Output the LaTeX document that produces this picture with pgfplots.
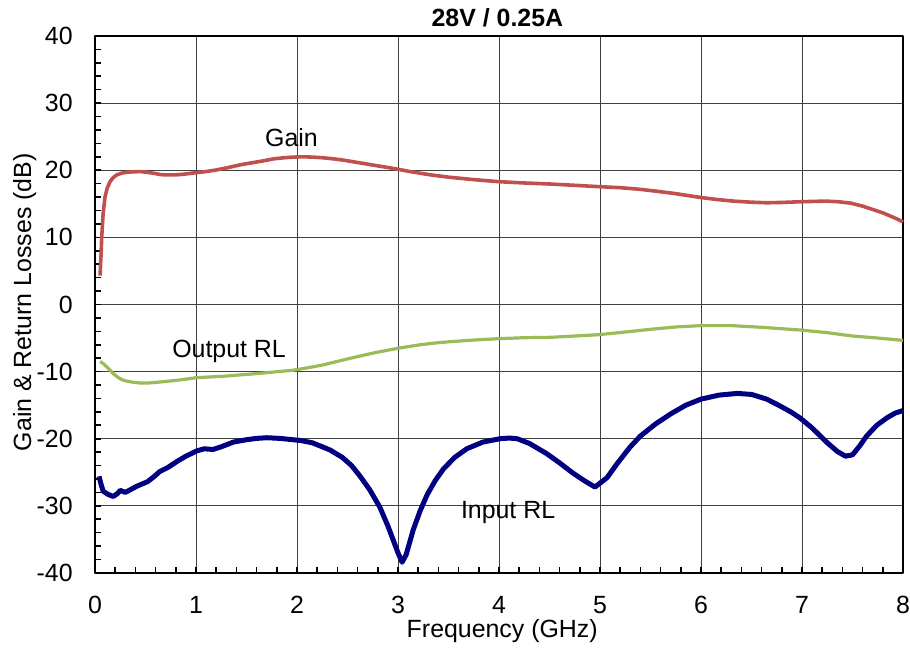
\documentclass[border=0pt]{standalone}
\usepackage{pgfplots}
\pgfplotsset{compat=1.18}
\usepackage{fontspec}
\setmainfont{Liberation Sans}
\definecolor{gainred}{HTML}{C0504D}
\definecolor{outgreen}{HTML}{9BBB59}
\definecolor{innavy}{HTML}{000080}
\newcommand{\lblfont}{\fontsize{12.5}{15}\selectfont}
\begin{document}
\begin{tikzpicture}
\begin{axis}[
  scale only axis, width=404bp, height=268.5bp,
  xmin=0, xmax=8, ymin=-40, ymax=40,
  xtick={0,1,...,8}, ytick={-40,-30,...,40},
  minor x tick num=4, minor y tick num=4,
  xtick pos=bottom, ytick pos=left,
  tick align=inside,
  major tick length=3bp, minor tick length=3bp,
  every tick/.style={black, line width=0.8bp},
  grid=major, major grid style={black!75, line width=0.5bp},
  axis line style={line width=1.3bp},
  /pgf/number format/assume math mode=true,
  tick label style={font=\lblfont, inner sep=0pt},
  yticklabel style={xshift=-11bp},
  xticklabel style={yshift=-11.5bp},
  xlabel={Frequency (GHz)},
  ylabel={Gain \& Return Losses (dB)},
  xlabel style={at={(rel axis cs:0.504,-0.1195)}, anchor=base, inner sep=0pt, font=\lblfont},
  ylabel style={at={(rel axis cs:-0.0792,0.504)}, anchor=base, inner sep=0pt, font=\lblfont},
  title={28V / 0.25A},
  every axis title shift=0pt,
  title style={at={(rel axis cs:0.498,1.0168)}, anchor=base, inner sep=0pt, font=\bfseries\lblfont},
  clip=false,
  line join=round,
]
\path (rel axis cs:-0.1176,-0.1434) rectangle (rel axis cs:1.00866,1.0670);

\addplot[gainred, line width=1.8bp] coordinates {
(0.05,4.3) (0.06,7.5) (0.066,9.9) (0.08,13.5) (0.099,16.0) (0.12,17.3)
(0.149,18.3) (0.18,18.9) (0.215,19.3) (0.26,19.55) (0.31,19.7) (0.37,19.75)
(0.446,19.8) (0.51,19.7) (0.58,19.55) (0.65,19.35) (0.71,19.3) (0.79,19.3)
(0.875,19.4) (1.007,19.65) (1.1,19.8) (1.205,20.05) (1.32,20.4) (1.436,20.8)
(1.55,21.1) (1.667,21.4) (1.77,21.7) (1.865,21.85) (1.96,21.95) (2.06,22.0)
(2.16,21.95) (2.26,21.85) (2.36,21.7) (2.46,21.5) (2.6,21.15) (2.76,20.75)
(2.88,20.45) (3.0,20.15) (3.1,19.85) (3.22,19.55) (3.35,19.25) (3.51,18.95)
(3.75,18.6) (3.99,18.3) (4.25,18.1) (4.5,17.95) (4.75,17.75) (4.99,17.55)
(5.2,17.4) (5.4,17.15) (5.57,16.85) (5.73,16.55) (5.86,16.25) (5.99,15.95)
(6.15,15.65) (6.32,15.4) (6.48,15.25) (6.65,15.15) (6.8,15.2) (6.98,15.3)
(7.1,15.35) (7.24,15.4) (7.36,15.3) (7.48,15.1) (7.6,14.65) (7.71,14.1)
(7.8,13.65) (7.87,13.2) (7.94,12.75) (8.0,12.3)
};

\addplot[outgreen, line width=1.6bp] coordinates {
(0.05,-8.5) (0.08,-8.8) (0.116,-9.3) (0.15,-9.8) (0.18,-10.3) (0.23,-10.9)
(0.28,-11.3) (0.36,-11.55) (0.446,-11.7) (0.53,-11.7) (0.61,-11.6) (0.71,-11.45)
(0.81,-11.3) (0.91,-11.1) (1.007,-10.9) (1.13,-10.8) (1.27,-10.7) (1.43,-10.5)
(1.6,-10.3) (1.78,-10.05) (1.96,-9.8) (2.1,-9.45) (2.26,-9.0) (2.42,-8.4)
(2.59,-7.8) (2.75,-7.25) (2.92,-6.75) (3.07,-6.35) (3.22,-6.0) (3.36,-5.75)
(3.51,-5.55) (3.75,-5.3) (3.99,-5.1) (4.25,-4.95) (4.5,-4.9) (4.75,-4.7)
(4.99,-4.5) (5.25,-4.1) (5.5,-3.7) (5.75,-3.35) (6.0,-3.15) (6.3,-3.15)
(6.6,-3.4) (6.98,-3.8) (7.25,-4.2) (7.5,-4.7) (7.75,-5.0) (8.0,-5.35)
};

\addplot[innavy, line width=2.5bp] coordinates {
(0.04,-25.6) (0.06,-26.8) (0.08,-27.8) (0.13,-28.3) (0.18,-28.6) (0.22,-28.2)
(0.25,-27.7) (0.3,-28.0) (0.35,-27.6) (0.41,-27.1) (0.52,-26.4) (0.58,-25.7)
(0.64,-24.9) (0.72,-24.3) (0.81,-23.4) (0.9,-22.6) (1.01,-21.8) (1.08,-21.5)
(1.17,-21.6) (1.25,-21.2) (1.37,-20.5) (1.5,-20.15) (1.6,-19.95) (1.7,-19.85)
(1.83,-19.95) (1.96,-20.15) (2.03,-20.25) (2.15,-20.6) (2.25,-21.2) (2.33,-21.7)
(2.45,-22.8) (2.54,-24.0) (2.62,-25.5) (2.72,-27.6) (2.82,-30.2) (2.9,-33.0)
(2.95,-35.0) (3.0,-37.0) (3.04,-38.4) (3.08,-37.3) (3.12,-35.2) (3.15,-33.6)
(3.22,-30.7) (3.29,-28.3) (3.37,-26.2) (3.45,-24.5) (3.56,-22.8) (3.68,-21.5)
(3.84,-20.5) (4.01,-20.0) (4.1,-19.9) (4.18,-20.0) (4.3,-20.7) (4.47,-22.2)
(4.6,-23.6) (4.73,-25.1) (4.85,-26.3) (4.95,-27.2) (5.07,-25.8) (5.17,-23.7)
(5.3,-21.2) (5.4,-19.6) (5.55,-17.8) (5.7,-16.3) (5.85,-15.0) (6.0,-14.1)
(6.18,-13.5) (6.36,-13.25) (6.5,-13.4) (6.65,-14.1) (6.78,-15.1) (6.9,-16.1)
(6.98,-16.9) (7.1,-18.4) (7.25,-20.6) (7.35,-21.9) (7.43,-22.6) (7.5,-22.4)
(7.57,-21.1) (7.64,-19.6) (7.74,-18.0) (7.84,-16.9) (7.92,-16.2) (8.0,-15.8)
};

\node[anchor=base, inner sep=0pt, font=\lblfont] at (axis cs:1.945,23.6) {Gain};
\node[anchor=base, inner sep=0pt, font=\lblfont] at (axis cs:1.327,-7.9) {Output RL};
\node[anchor=base, inner sep=0pt, font=\lblfont] at (axis cs:4.09,-31.9) {Input RL};
\end{axis}
\end{tikzpicture}
\end{document}
